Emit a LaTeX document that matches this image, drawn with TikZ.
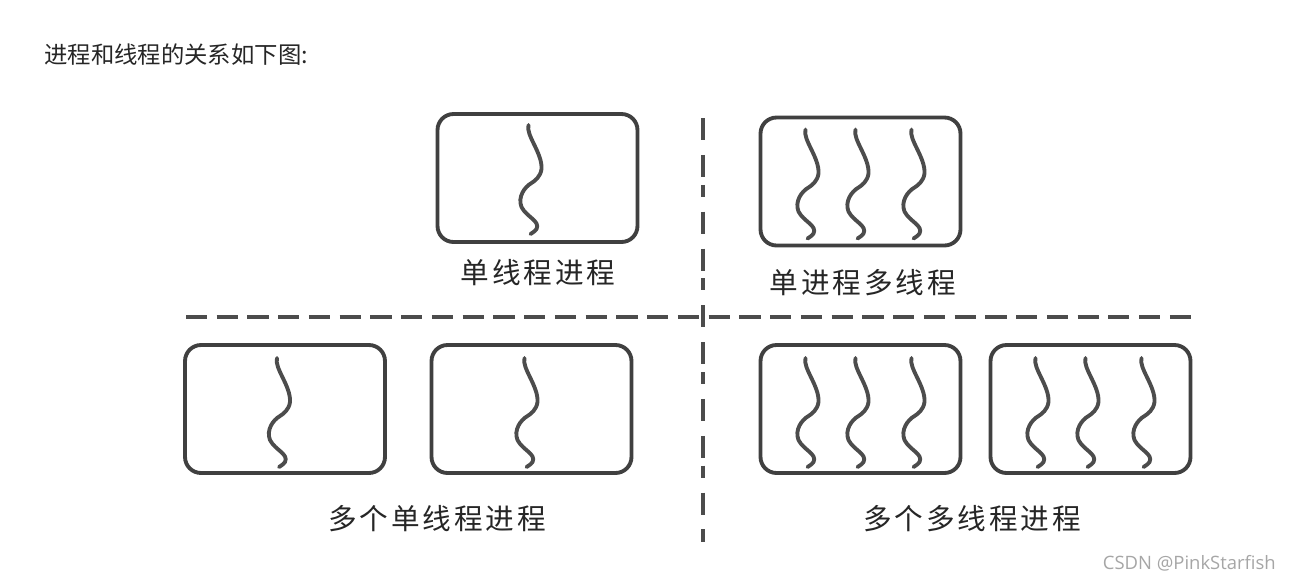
\documentclass[tikz,border=0pt]{standalone}
\usepackage{fontspec}
\newfontfamily\cjk{Noto Sans CJK SC}
\newfontfamily\cjklabel[LetterSpace=10]{Noto Sans CJK SC}
\newfontfamily\wmfont{Open Sans}
\tikzset{
  wave/.pic={
    \draw[threadline] (0,0) .. controls (-3,10) and (14,28) .. (13,44)
      .. controls (12,52) and (6,56) .. (3,58)
      .. controls (-4,62) and (-11,72) .. (-7,82)
      .. controls (-2,92) and (12,96) .. (8,104)
      .. controls (6,107) and (3,108) .. (2,109);
  }
}
\begin{document}
\begin{tikzpicture}[x=0.02cm, y=-0.02cm]
    \tikzstyle{procbox}=[draw=black!75, line width=2.2pt, rounded corners=0.32cm, minimum width=4cm, minimum height=2.56cm, inner sep=0pt]
    \tikzstyle{threadline}=[draw=black!70, line width=2.2pt, line cap=round]
    \tikzstyle{caption}=[font=\cjklabel\fontsize{16.3}{18}\selectfont, text=black!85, inner sep=0pt]
    \tikzstyle{hdivider}=[draw=black!70, line width=2.3pt, dash pattern=on 12pt off 5.5pt]
    \tikzstyle{vdivider}=[draw=black!70, line width=2.3pt, dash pattern=on 12.5pt off 8.5pt on 12.5pt off 4.5pt on 6.8pt off 8.5pt]

    \useasboundingbox[fill=white] (0,0) rectangle (1291,579);

    \node[anchor=west, inner sep=0pt, font=\cjk\fontsize{13.3}{15}\selectfont, text=black!85] (title) at (44,55) {进程和线程的关系如下图:};

    % dividers
    \coordinate (vtop) at (703,118);
    \coordinate (vbot) at (703,542);
    \coordinate (hleft) at (186,317);
    \coordinate (hright) at (1200,317);
    \draw[vdivider] (vtop) -- (vbot);
    \draw[hdivider] (hleft) -- (hright);

    % processes
    \node[procbox] (single) at (537.5,178) {};
    \node[procbox] (multi) at (860.5,181.5) {};
    \node[procbox] (sp1) at (285,409) {};
    \node[procbox] (sp2) at (531.5,409) {};
    \node[procbox] (mp1) at (860.5,409) {};
    \node[procbox] (mp2) at (1090.5,409) {};

    % threads
    \path (single.center) ++(-9,-53) pic {wave};
    \path (sp1.center) ++(-8,-51) pic {wave};
    \path (sp2.center) ++(-7,-51) pic {wave};
    \foreach \dx in {-55,-5,51} {
      \path (multi.center) ++(\dx,-52) pic {wave};
      \path (mp1.center) ++(\dx,-51) pic {wave};
      \path (mp2.center) ++(\dx,-51) pic {wave};
    }

    \node[caption] (capsingle) at (538,273) {单线程进程};
    \node[caption] (capmulti) at (863,283) {单进程多线程};
    \node[caption] (capsp) at (437,519) {多个单线程进程};
    \node[caption] (capmp) at (972,519) {多个多线程进程};

    \node[anchor=east, inner sep=0pt, font=\wmfont\fontsize{10.5}{12}\selectfont, text=black!35] (mark) at (1276,563) {CSDN @PinkStarfish};
  \end{tikzpicture}
\end{document}
